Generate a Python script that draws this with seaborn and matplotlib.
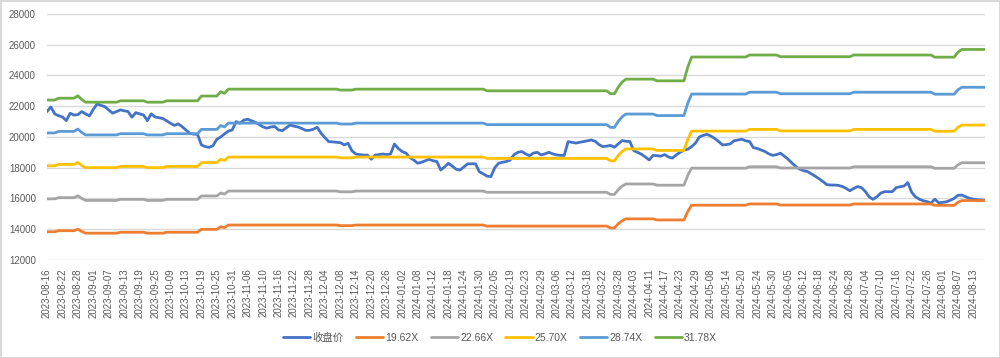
import matplotlib
matplotlib.use('Agg')
import matplotlib.pyplot as plt
import numpy as np
import pandas as pd
import seaborn as sns

# trading days (SSE calendar), 2023-08-16 .. 2024-08-16
holidays = ['2023-09-29', '2023-10-02', '2023-10-03', '2023-10-04', '2023-10-05', '2023-10-06',
            '2024-01-01', '2024-02-09', '2024-02-12', '2024-02-13', '2024-02-14', '2024-02-15',
            '2024-02-16', '2024-04-04', '2024-04-05', '2024-05-01', '2024-05-02', '2024-05-03',
            '2024-06-10']
days = pd.bdate_range('2023-08-16', '2024-08-16')
days = days[~days.isin(pd.to_datetime(holidays))]
dates = [d.strftime('%Y-%m-%d') for d in days]

# close price
close = [
    21650, 21950, 21500, 21380, 21300, 21060, 21540, 21420, 21450, 21650,
    21500, 21370, 21800, 22150, 22050, 21970, 21750, 21550, 21650, 21760,
    21700, 21650, 21280, 21580, 21500, 21430, 21060, 21500, 21300, 21250,
    21200, 21050, 20890, 20750, 20850, 20670, 20450, 20240, 20180, 20170,
    19480, 19370, 19320, 19430, 19850, 20000, 20200, 20380, 20460, 21000,
    20890, 21100, 21150, 21050, 20950, 20800, 20650, 20570, 20650, 20680,
    20450, 20410, 20600, 20780, 20700, 20650, 20550, 20430, 20430, 20500,
    20630, 20240, 19950, 19690, 19680, 19650, 19630, 19480, 19590, 19100,
    18890, 18850, 18820, 18820, 18550, 18820, 18850, 18890, 18850, 18890,
    19540, 19250, 19050, 18950, 18650, 18500, 18290, 18350, 18450, 18550,
    18450, 18400, 17850, 18050, 18290, 18100, 17900, 17850, 18050, 18250,
    18250, 18250, 17740, 17600, 17450, 17420, 18000, 18290, 18350, 18400,
    18500, 18850, 19000, 19050, 18900, 18780, 18950, 19000, 18830, 18900,
    19000, 18900, 18830, 18800, 18800, 19690, 19650, 19600, 19650, 19700,
    19750, 19800, 19720, 19500, 19370, 19400, 19450, 19330, 19550, 19760,
    19720, 19700, 19110, 19000, 18870, 18700, 18500, 18800, 18780, 18750,
    18850, 18700, 18620, 18830, 19000, 19150, 19200, 19370, 19600, 20000,
    20100, 20170, 20050, 19900, 19700, 19480, 19500, 19550, 19750, 19800,
    19850, 19750, 19700, 19300, 19250, 19150, 19050, 18900, 18800, 18850,
    18940, 18750, 18550, 18300, 18070, 17900, 17810, 17750, 17600, 17450,
    17280, 17100, 16900, 16870, 16870, 16850, 16780, 16650, 16500, 16650,
    16770, 16700, 16450, 16100, 15940, 16110, 16350, 16440, 16440, 16440,
    16700, 16760, 16800, 17030, 16400, 16100, 15950, 15850, 15790, 15700,
    15950, 15720, 15740, 15780, 15880, 16000, 16200, 16220, 16110, 16000,
    15950, 15920, 15900, 15880,
]

# PE bands are step lines: number of trading days in each flat run
run_days = [3, 5, 1, 1, 9, 7, 5, 9, 5, 1, 1, 29, 4, 34, 32, 2, 1, 1, 8, 8, 1, 15, 8, 19, 21, 6, 1, 7]
pe_1962 = [13830, 13900, 14000, 13850, 13740, 13800, 13740, 13800, 13990, 14160, 14100, 14270, 14230, 14270,
           14200, 14080, 14350, 14550, 14670, 14600, 15150, 15560, 15640, 15570, 15640, 15550, 15750, 15860]
pe_2266 = [15970, 16050, 16170, 16000, 15870, 15940, 15870, 15940, 16160, 16350, 16280, 16480, 16430, 16480,
           16400, 16260, 16570, 16800, 16940, 16860, 17500, 17970, 18060, 17980, 18060, 17960, 18190, 18320]
pe_2570 = [18120, 18210, 18340, 18140, 18000, 18080, 18000, 18080, 18330, 18550, 18470, 18690, 18640, 18690,
           18600, 18440, 18800, 19060, 19220, 19120, 19840, 20380, 20490, 20390, 20490, 20370, 20630, 20770]
pe_2874 = [20260, 20360, 20510, 20290, 20130, 20210, 20130, 20210, 20490, 20740, 20650, 20900, 20840, 20900,
           20800, 20620, 21020, 21310, 21490, 21390, 22190, 22790, 22910, 22810, 22910, 22780, 23070, 23230]
pe_3178 = [22400, 22520, 22680, 22430, 22260, 22350, 22260, 22350, 22660, 22940, 22840, 23110, 23050, 23110,
           23000, 22810, 23240, 23570, 23760, 23650, 24540, 25200, 25330, 25220, 25330, 25190, 25510, 25690]

series_names = ['收盘价', '19.62X', '22.66X', '25.70X', '28.74X', '31.78X']
colors = ['#4472C4', '#ED7D31', '#A5A5A5', '#FFC000', '#5B9BD5', '#70AD47']

wide = pd.DataFrame({'date': dates, '收盘价': close})
for name, vals in zip(series_names[1:], [pe_1962, pe_2266, pe_2570, pe_2874, pe_3178]):
    wide[name] = np.repeat(vals, run_days)
df = wide.melt(id_vars='date', var_name='series', value_name='value')

sns.set_style('white')
plt.rcParams['font.family'] = ['Liberation Sans', 'Noto Sans CJK SC', 'DejaVu Sans']

fig = plt.figure(figsize=(10, 3.58), dpi=100)
fig.patch.set_edgecolor('#d9d9d9')
fig.patch.set_linewidth(2)
ax = fig.add_axes([0.047, 0.274, 0.938, 0.687])

sns.lineplot(data=df, x='date', y='value', hue='series', hue_order=series_names,
             palette=colors, linewidth=2, estimator=None, sort=False, ax=ax)

ax.set_ylim(12000, 28000)
ax.set_yticks(range(12000, 28001, 2000))
ax.set_xlim(0, len(dates) - 1)
ax.set_xticks(range(0, len(dates), 4))
ax.set_xticklabels(dates[::4], rotation=90)
ax.set_xlabel('')
ax.set_ylabel('')
ax.grid(axis='y', color='#d9d9d9', linewidth=1)
ax.grid(axis='x', visible=False)
for s in ax.spines.values():
    s.set_visible(False)
ax.tick_params(axis='y', length=0, pad=8, labelsize=7, labelcolor='#595959')
ax.tick_params(axis='x', length=0, pad=6, labelsize=7, labelcolor='#595959')

handles, labels = ax.get_legend_handles_labels()
ax.get_legend().remove()
fig.legend(handles, labels, loc='center', bbox_to_anchor=(0.5, 0.056), ncol=6, frameon=False,
           fontsize=7.5, handlelength=2.6, handletextpad=0.2, columnspacing=1.2, labelcolor='#595959')

plt.savefig('out.png', dpi=100)
